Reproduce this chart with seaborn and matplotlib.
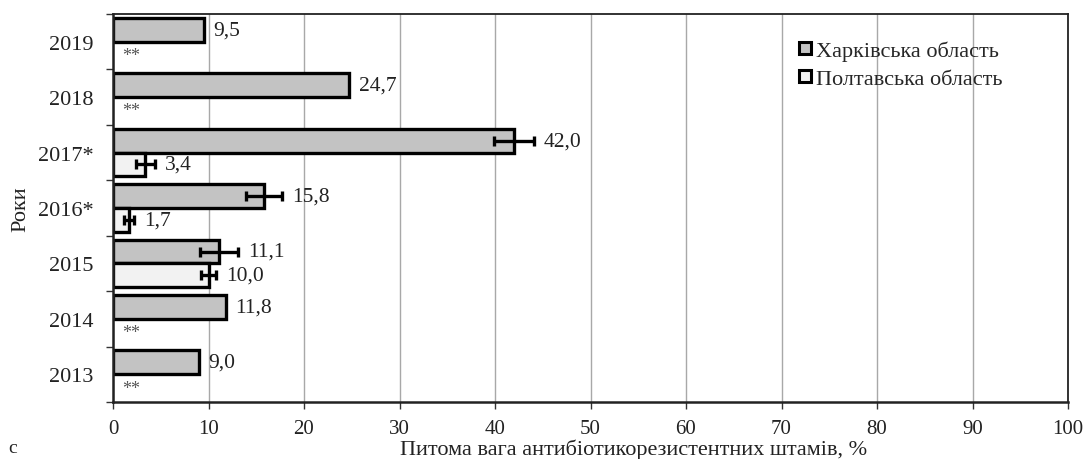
import numpy as np
import pandas as pd
import matplotlib
matplotlib.use("Agg")
import matplotlib.pyplot as plt
from matplotlib.lines import Line2D
import seaborn as sns

# Share of antibiotic-resistant strains by year and region
years = ["2019", "2018", "2017*", "2016*", "2015", "2014", "2013"]
regions = ["Харківська область", "Полтавська область"]
kharkiv = [9.5, 24.7, 42.0, 15.8, 11.1, 11.8, 9.0]
kharkiv_err = [0.0, 0.0, 2.1, 1.9, 2.0, 0.0, 0.0]
poltava = [None, None, 3.4, 1.7, 10.0, None, None]
poltava_err = [0.0, 0.0, 1.0, 0.5, 0.8, 0.0, 0.0]
x_ticks = list(range(0, 101, 10))

rows = []
for y, v, e in zip(years, kharkiv, kharkiv_err):
    rows.append({"year": y, "region": regions[0], "value": v, "err": e})
for y, v, e in zip(years, poltava, poltava_err):
    if v is not None:
        rows.append({"year": y, "region": regions[1], "value": v, "err": e})
df = pd.DataFrame(rows)

sns.set_theme(style="white")
plt.rcParams["font.family"] = ["Liberation Serif", "DejaVu Serif"]

fig = plt.figure(figsize=(10.83, 4.60), dpi=100)
ax = fig.add_axes([113 / 1083, 57 / 460, 955 / 1083, 388 / 460])

colors = ["#c3c3c3", "#f2f2f2"]
sns.barplot(data=df, x="value", y="year", hue="region", order=years,
            hue_order=regions, palette=colors, edgecolor="black",
            linewidth=2.4, width=0.86, errorbar=None, orient="h",
            legend=False, ax=ax)

# error bars and value labels, placed from the drawn bars
err_lookup = {(r["year"], r["region"]): r["err"] for _, r in df.iterrows()}
for region, cont in zip(regions, ax.containers):
    for patch in cont.patches:
        yc = patch.get_y() + patch.get_height() / 2
        val = patch.get_width()
        if np.isnan(val):
            continue
        year = years[int(round(yc))]
        err = err_lookup.get((year, region), 0.0)
        if err > 0:
            ax.errorbar(val, yc, xerr=err, fmt="none", ecolor="black",
                        elinewidth=2.4, capsize=3.5, capthick=2.4, zorder=5)
        label = f"{val:.1f}".replace(".", ",")
        ax.annotate(label, xy=(val + err, yc), xytext=(7, 0),
                    textcoords="offset points", va="center", ha="left",
                    fontsize=15.5, color="#222222")

# '**' marks where Poltava data is missing
for i, (y, v) in enumerate(zip(years, poltava)):
    if v is None:
        ax.text(1.0, i + 0.25, "**", ha="left", va="center",
                fontsize=13, color="#555555")

ax.set_xlim(0, 100)
ax.set_ylim(len(years) - 0.5, -0.5)
ax.set_xticks(x_ticks)
ax.set_xticklabels([str(t) for t in x_ticks], fontsize=15, color="#222222")
ax.set_yticks(range(len(years)))
ax.set_yticklabels(years, fontsize=16, color="#222222")
ax.set_yticks(np.arange(-0.5, len(years), 1.0), minor=True)
ax.tick_params(axis="y", which="major", length=0, pad=14)
ax.tick_params(axis="y", which="minor", length=5, width=1, color="#333333",
               direction="out", left=True)
ax.tick_params(axis="x", which="major", length=5, width=1, color="#333333",
               direction="out", bottom=True, pad=7)

ax.grid(axis="x", color="#a8a8a8", linewidth=1.0)
ax.set_axisbelow(True)
for side in ["top", "right", "bottom", "left"]:
    ax.spines[side].set_visible(True)
    ax.spines[side].set_color("#222222")
    ax.spines[side].set_linewidth(1.3)
ax.spines["left"].set_linewidth(1.8)
ax.spines["bottom"].set_linewidth(1.8)

ax.set_xlabel("Питома вага антибіотикорезистентних штамів, %", fontsize=16,
              color="#222222", labelpad=0)
ax.xaxis.set_label_coords(0.5455, -0.095)
ax.set_ylabel("Роки", fontsize=16, color="#222222")
ax.yaxis.set_label_coords(-0.086, 0.5)

handles = [Line2D([0], [0], marker="s", linestyle="none", markersize=9,
                  markerfacecolor=c, markeredgecolor="black",
                  markeredgewidth=2.2) for c in colors]
ax.legend(handles, regions, loc="upper left", bbox_to_anchor=(0.705, 0.955),
          frameon=False, fontsize=16, handletextpad=0.05, labelspacing=0.35,
          borderaxespad=0, handlelength=0.9)

fig.text(8 / 1083, 1 - 449 / 460, "c", fontsize=14, color="#222222",
         va="center", ha="left")

fig.savefig("out.png", dpi=100)
